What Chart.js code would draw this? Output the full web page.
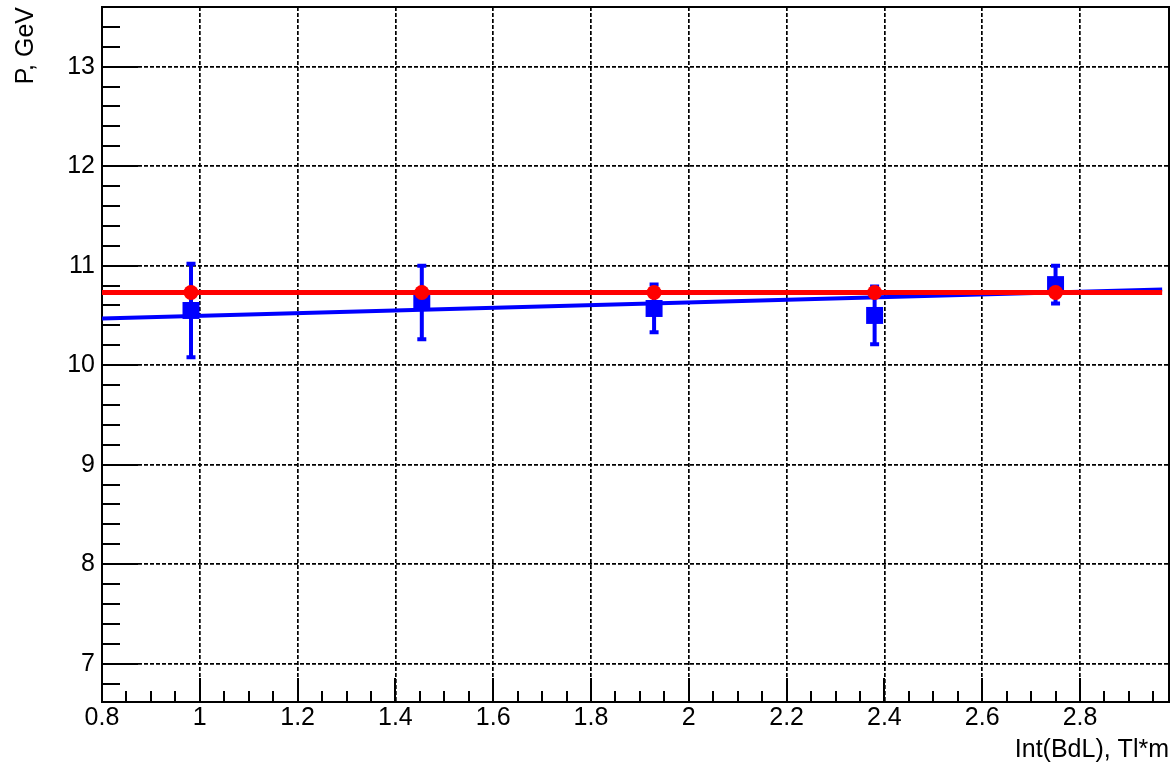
<!DOCTYPE html>
<html>
<head>
<meta charset="utf-8">
<script src="https://cdn.jsdelivr.net/npm/chart.js@4.4.1/dist/chart.umd.min.js"></script>
<style>
  body { margin: 0; background: #fff; }
  #wrap { width: 1173px; height: 767px; }
</style>
</head>
<body>
<div id="wrap"><canvas id="fitChart" width="1173" height="767"></canvas></div>
<script>
// Measured points (x = Int(BdL), y = P)
const xVals = [0.982, 1.454, 1.929, 2.380, 2.750];
const blueP = [10.55, 10.63, 10.57, 10.50, 10.81];
const blueErr = [0.47, 0.37, 0.24, 0.29, 0.19];
const redP = [10.73, 10.73, 10.73, 10.73, 10.73];

// Fit lines (end points)
const fitX = [0.8, 2.968];
const blueFit = [10.47, 10.76];
const redFit = [10.73, 10.73];

// Axis ticks
const xTickVals = [0.8, 1.0, 1.2, 1.4, 1.6, 1.8, 2.0, 2.2, 2.4, 2.6, 2.8];
const xTickLabels = ['0.8', '1', '1.2', '1.4', '1.6', '1.8', '2', '2.2', '2.4', '2.6', '2.8'];
const yTickVals = [7, 8, 9, 10, 11, 12, 13];
const yTickLabels = ['7', '8', '9', '10', '11', '12', '13'];

const pts = (xs, ys) => xs.map((x, i) => ({ x: x, y: ys[i] }));

// no extra room for edge labels, the plot box is fixed
const noPad = scale => {
  scale.paddingTop = 0;
  scale.paddingBottom = 0;
  scale.paddingLeft = 0;
  scale.paddingRight = 0;
};

// error bars for the blue points, ROOT style frame and tick marks
const rootStyle = {
  id: 'rootStyle',
  beforeDatasetsDraw(chart) {
    const { ctx, chartArea: a, scales: { x, y } } = chart;
    ctx.save();
    ctx.strokeStyle = '#000';
    ctx.lineWidth = 2;
    ctx.beginPath();
    // x ticks
    for (let v = 0.8; v <= x.max + 1e-9; v += 0.05) {
      const px = Math.round(x.getPixelForValue(v));
      const major = Math.abs(v * 5 - Math.round(v * 5)) < 1e-6;
      ctx.moveTo(px, a.bottom);
      ctx.lineTo(px, a.bottom - (major ? 24 : 11));
    }
    // y ticks
    for (let v = 6.8; v <= y.max + 1e-9; v += 0.2) {
      const py = Math.round(y.getPixelForValue(v));
      const major = Math.abs(v - Math.round(v)) < 1e-6;
      ctx.moveTo(a.left, py);
      ctx.lineTo(a.left + (major ? 36 : 18), py);
    }
    ctx.stroke();
    ctx.strokeRect(a.left, a.top, a.right - a.left, a.bottom - a.top);
    ctx.restore();
  },
  afterDatasetDraw(chart, args) {
    if (args.index !== 1) return;
    const { ctx, scales: { x, y } } = chart;
    ctx.save();
    ctx.strokeStyle = '#0000ff';
    ctx.lineWidth = 4;
    ctx.beginPath();
    xVals.forEach((xv, i) => {
      const px = x.getPixelForValue(xv);
      const top = y.getPixelForValue(blueP[i] + blueErr[i]);
      const bot = y.getPixelForValue(blueP[i] - blueErr[i]);
      ctx.moveTo(px, top);
      ctx.lineTo(px, bot);
      ctx.moveTo(px - 4.5, top);
      ctx.lineTo(px + 4.5, top);
      ctx.moveTo(px - 4.5, bot);
      ctx.lineTo(px + 4.5, bot);
    });
    ctx.stroke();
    ctx.restore();
  }
};

const tickFont = { family: "'Liberation Sans', Arial, sans-serif", size: 25 };

new Chart(document.getElementById('fitChart'), {
  type: 'scatter',
  data: {
    datasets: [
      {
        data: pts(fitX, blueFit),
        showLine: true,
        borderColor: '#0000ff',
        borderWidth: 4,
        pointRadius: 0,
        order: 4
      },
      {
        data: pts(xVals, blueP),
        pointStyle: 'rect',
        pointRadius: 12,
        backgroundColor: '#0000ff',
        borderColor: '#0000ff',
        borderWidth: 0,
        order: 3
      },
      {
        data: pts(fitX, redFit),
        showLine: true,
        borderColor: '#ff0000',
        borderWidth: 5,
        pointRadius: 0,
        order: 2
      },
      {
        data: pts(xVals, redP),
        pointStyle: 'circle',
        pointRadius: 7.5,
        backgroundColor: '#ff0000',
        borderColor: '#ff0000',
        borderWidth: 0,
        order: 1
      }
    ]
  },
  options: {
    responsive: false,
    animation: false,
    layout: { autoPadding: false, padding: { left: 0, right: 4, top: 7, bottom: 0 } },
    plugins: {
      legend: { display: false },
      tooltip: { enabled: false }
    },
    scales: {
      x: {
        type: 'linear',
        min: 0.8,
        max: 2.982,
        afterBuildTicks: scale => { scale.ticks = xTickVals.map(v => ({ value: v })); },
        afterFit: scale => { scale.height = 65; noPad(scale); },
        border: { display: false, dash: [4, 2] },
        grid: {
          color: '#000',
          lineWidth: 1.7,
          drawTicks: false
        },
        ticks: {
          autoSkip: false,
          maxRotation: 0,
          padding: 1,
          color: '#000',
          font: tickFont,
          callback: (v, i) => xTickLabels[i]
        },
        title: {
          display: true,
          text: 'Int(BdL), Tl*m',
          align: 'end',
          color: '#000',
          font: tickFont,
          padding: { top: 0, bottom: 2 }
        }
      },
      y: {
        type: 'linear',
        min: 6.615,
        max: 13.6,
        afterBuildTicks: scale => { scale.ticks = yTickVals.map(v => ({ value: v })); },
        afterFit: scale => { scale.width = 102; noPad(scale); },
        border: { display: false, dash: [4, 2] },
        grid: {
          color: '#000',
          lineWidth: 1.7,
          drawTicks: false
        },
        ticks: {
          autoSkip: false,
          padding: 7,
          color: '#000',
          font: tickFont,
          callback: (v, i) => yTickLabels[i]
        },
        title: {
          display: true,
          text: 'P, GeV',
          align: 'end',
          color: '#000',
          font: tickFont,
          padding: { top: 11, bottom: 0 }
        }
      }
    }
  },
  plugins: [rootStyle]
});
</script>
</body>
</html>
